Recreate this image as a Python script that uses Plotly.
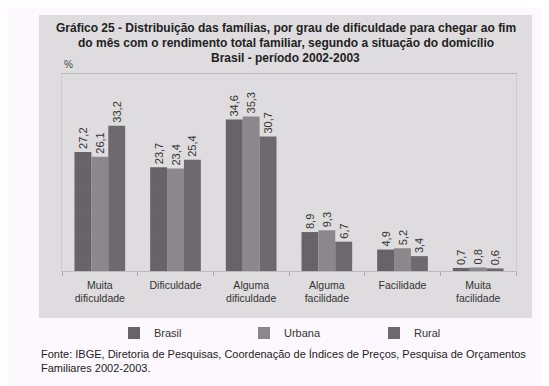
import plotly.graph_objects as go

categories = ["Muita<br>dificuldade", "Dificuldade", "Alguma<br>dificuldade",
              "Alguma<br>facilidade", "Facilidade", "Muita<br>facilidade"]
brasil = [27.2, 23.7, 34.6, 8.9, 4.9, 0.7]
urbana = [26.1, 23.4, 35.3, 9.3, 5.2, 0.8]
rural = [33.2, 25.4, 30.7, 6.7, 3.4, 0.6]
series_names = ["Brasil", "Urbana", "Rural"]
series_colors = ["#6a656a", "#8c878c", "#6e696e"]

OFF = 8  # browser default body margin
W, H = 549 - OFF, 386 - OFF
L, R, T, B = 62 - OFF, 33, 74 - OFF, 115
PW, PH = W - L - R, H - T - B

def fmt(v):
    return f"{v:.1f}".replace(".", ",")

def fx(p):
    return (p - OFF - L) / PW

def fy(p):
    return (H - B - (p - OFF)) / PH

fig = go.Figure()
for name, vals, col in zip(series_names, [brasil, urbana, rural], series_colors):
    marker = dict(color=col, line=dict(width=0))
    if name == "Brasil":
        marker["pattern"] = dict(shape=".", fgcolor="#5a555a", size=3, solidity=0.3)
    fig.add_trace(go.Bar(
        name=name, x=categories, y=vals, marker=marker,
        text=[fmt(v) for v in vals], textposition="outside", textangle=-90,
        constraintext="none",
        textfont=dict(family="Liberation Sans, Arial, sans-serif", size=11, color="#333333"),
        cliponaxis=False,
    ))

fig.update_layout(
    width=W, height=H,
    margin=dict(l=L, r=R, t=T, b=B, autoexpand=False),
    paper_bgcolor="#fdf8fd",
    plot_bgcolor="#fdf8fd",
    barmode="group",
    bargap=0.33,
    bargroupgap=0.0,
    font=dict(family="Liberation Sans, Arial, sans-serif", size=11, color="#333333"),
    showlegend=True,
    legend=dict(orientation="h", x=fx(114), xanchor="left",
                y=fy(333), yanchor="middle",
                entrywidth=85, entrywidthmode="pixels",
                font=dict(size=11, color="#333333"), bgcolor="rgba(0,0,0,0)",
                itemsizing="constant"),
    xaxis=dict(showgrid=False, ticks="outside", tickson="boundaries", ticklen=4,
               tickcolor="#aaaaaa", showline=True, linecolor="#bbbbbb", linewidth=1,
               ticklabelstandoff=4,
               tickfont=dict(size=10.5, color="#333333"), mirror=True),
    yaxis=dict(range=[0, 45], showgrid=False, showticklabels=False, ticks="",
               showline=True, linecolor="#cccccc", linewidth=1, mirror=True,
               zeroline=False),
)

# grey panel behind the chart
fig.add_shape(type="rect", xref="paper", yref="paper", layer="below",
              x0=fx(39), x1=fx(532), y0=fy(318), y1=fy(15),
              fillcolor="#dedcde", line=dict(width=0))

title_lines = [
    "Gráfico 25 - Distribuição das famílias, por grau de dificuldade para chegar ao fim",
    "do mês com o rendimento total familiar, segundo a situação do domicílio",
    "Brasil - período 2002-2003",
]
for i, line in enumerate(title_lines):
    yp = 28 + 15 * i
    fig.add_annotation(text=f"<b>{line}</b>", xref="paper", yref="paper",
                       x=fx(285.5), y=fy(yp), xanchor="center", yanchor="middle",
                       showarrow=False, font=dict(size=12, color="#222222"))

fig.add_annotation(text="%", xref="paper", yref="paper",
                   x=fx(62), y=fy(65),
                   xanchor="left", yanchor="middle", showarrow=False,
                   font=dict(size=10, color="#444444"))

fig.add_annotation(text="Fonte: IBGE, Diretoria de Pesquisas, Coordenação de Índices de Preços, Pesquisa de Orçamentos<br>Familiares 2002-2003.",
                   xref="paper", yref="paper", align="left",
                   x=fx(39), y=fy(346),
                   xanchor="left", yanchor="top", showarrow=False,
                   font=dict(size=11, color="#222222"))

fig.write_html("out.html")
